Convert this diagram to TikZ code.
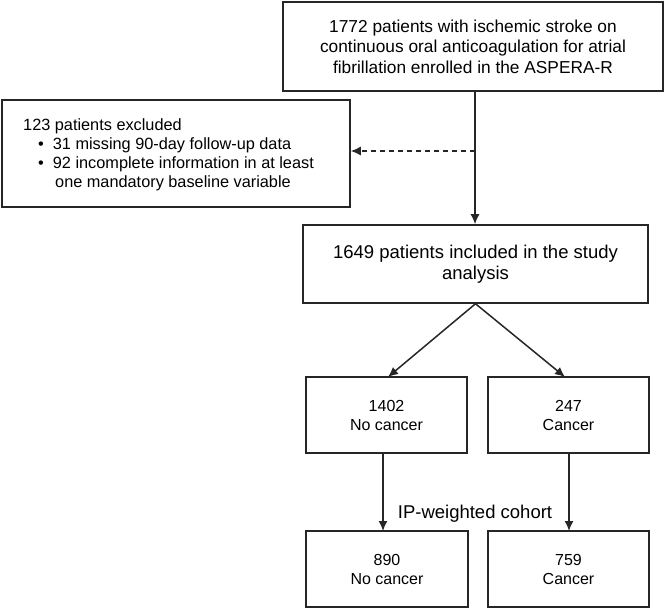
\documentclass[tikz,border=0pt]{standalone}
\usepackage{fontspec}
\setmainfont{Liberation Sans}
\usetikzlibrary{arrows.meta}
\begin{document}
\begin{tikzpicture}[x=1pt,y=-1pt,
  every node/.style={font=\fontsize{16}{19}\selectfont},
  box/.style={draw=black!85, line width=1.5pt, align=center, inner sep=0pt},
  arr/.style={draw=black!85, line width=1.5pt, -{Latex[length=10pt,width=9pt]}},
  darr/.style={arr, dash pattern=on 5pt off 4pt}]
  \useasboundingbox (0,0) rectangle (666,609);

  % enrolment
  \node[box, minimum width=380pt, minimum height=89pt,
        font=\fontsize{17.3}{20.5}\selectfont] (enrol) at (473,46.5)
    {1772 patients with ischemic stroke on\\continuous oral anticoagulation for atrial\\fibrillation enrolled in the ASPERA-R};

  % exclusions
  \node[box, minimum width=348pt, minimum height=107pt] (excl) at (176,153.5) {};
  \node[anchor=north west, align=left, inner sep=0pt,
        font=\fontsize{16.3}{19}\selectfont] (excltxt) at (23,118)
    {123 patients excluded\\
     \hspace*{15pt}\textbullet\hspace{9pt}31 missing 90-day follow-up data\\
     \hspace*{15pt}\textbullet\hspace{9pt}92 incomplete information in at least\\
     \hspace*{32pt}one mandatory baseline variable};

  % study population
  \node[box, minimum width=345pt, minimum height=78pt,
        font=\fontsize{18.5}{21.5}\selectfont] (incl) at (475.5,264)
    {1649 patients included in the study\\analysis};

  % cancer groups
  \node[box, minimum width=161pt, minimum height=76pt] (nocan) at (386.5,415) {1402\\No cancer};
  \node[box, minimum width=161pt, minimum height=76pt] (can) at (568.5,415) {247\\Cancer};

  % weighted cohort
  \node[box, minimum width=162pt, minimum height=76pt] (wnocan) at (387,569) {890\\No cancer};
  \node[box, minimum width=161pt, minimum height=76pt] (wcan) at (568.5,569) {759\\Cancer};
  \node[font=\fontsize{18.5}{21.5}\selectfont] (iptxt) at (475,514) {IP-weighted cohort};

  % connectors
  \coordinate (split) at (475,151);
  \draw[arr] (enrol.south -| split) -- (incl.north -| split);
  \draw[darr] (split) -- (excl.east |- split);
  \coordinate (bl) at (388,377);
  \coordinate (br) at (565,377);
  \draw[arr] (incl.south) -- (bl);
  \draw[arr] (incl.south) -- (br);
  \draw[arr] (383,453) -- (383,531);
  \draw[arr] (569,453) -- (569,531);
\end{tikzpicture}
\end{document}
